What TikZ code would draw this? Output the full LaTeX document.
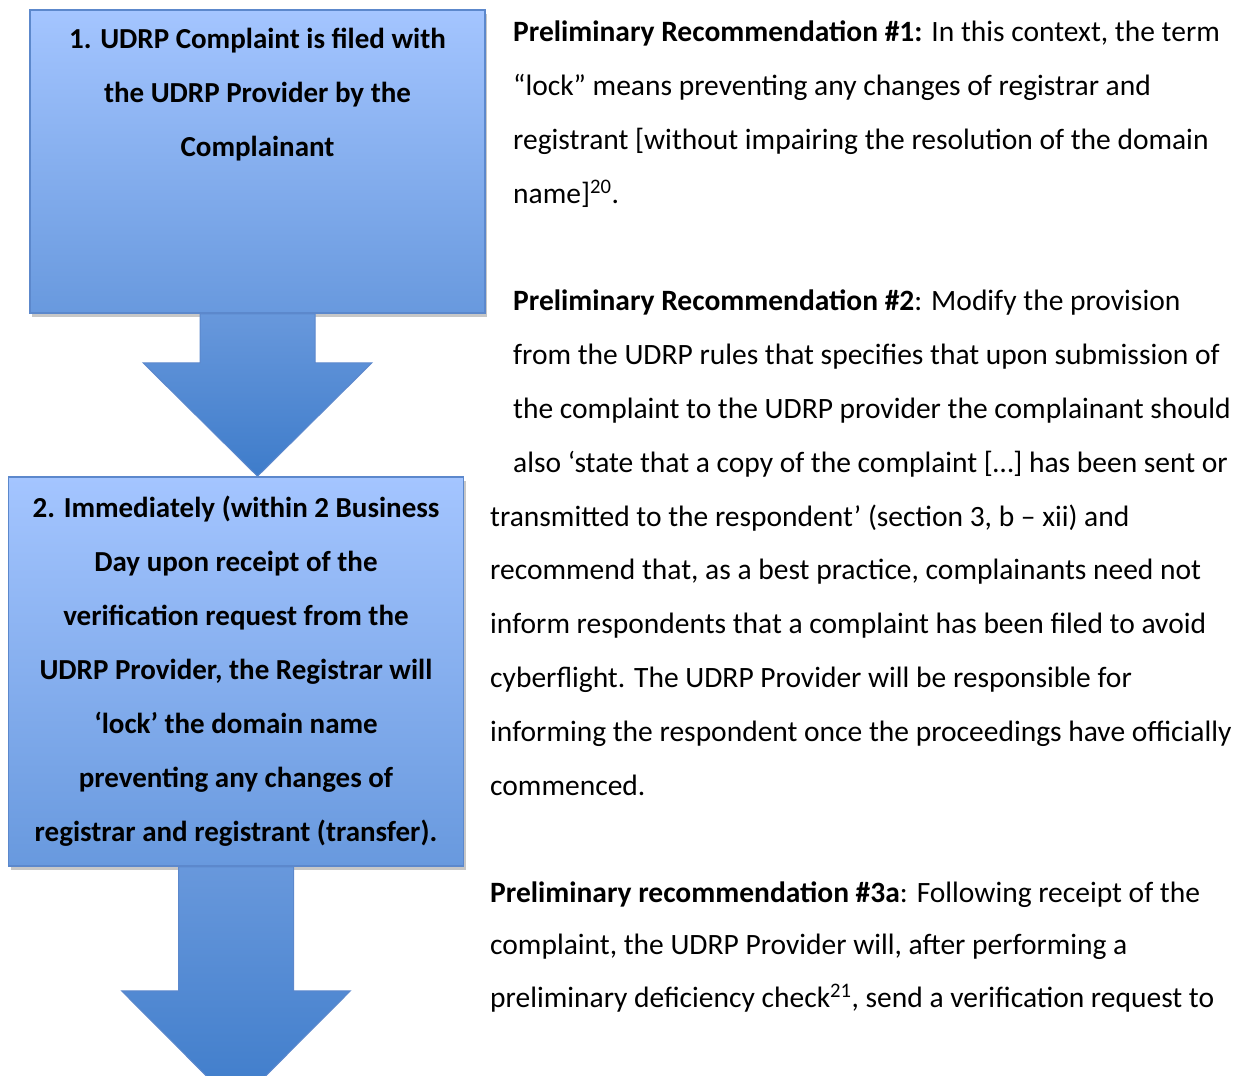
\documentclass[tikz,border=0pt]{standalone}
\usepackage{fontspec}
\setmainfont{Carlito}
\usetikzlibrary{positioning,calc,shadows}

\definecolor{boxtop}{RGB}{164,197,255}
\definecolor{boxbot}{RGB}{104,153,222}
\definecolor{arrowtop}{RGB}{104,152,220}
\definecolor{arrowbot}{RGB}{62,124,202}
\definecolor{boxedge}{RGB}{92,136,204}

\tikzset{
  stepbox/.style={draw=boxedge, line width=1.5pt, top color=boxtop, bottom color=boxbot,
    minimum width=455pt, inner sep=0pt,
    drop shadow={shadow xshift=2pt, shadow yshift=-4pt, fill=black!22, opacity=1}},
  flowarrow/.style={draw=boxedge, line width=1pt, top color=arrowtop, bottom color=arrowbot},
  boxtext/.style={font=\fontsize{29}{54}\selectfont\bfseries, align=center, inner sep=0pt, anchor=base},
  rectext/.style={font=\fontsize{29.5}{53.8}\selectfont, align=left, inner sep=0pt, anchor=base west}
}

\begin{document}
\begin{tikzpicture}[x=1pt,y=-1pt]
\useasboundingbox (0,0) rectangle (1237,1076);
\clip (0,0) rectangle (1237,1076);
% the two steps
\node[stepbox, minimum height=303pt] (box1) at (257.5,161.5) {};
\node[stepbox, minimum height=389pt] (box2) at (236,671.5) {};
% arrow from step 1 to step 2
\draw[flowarrow] ($(box1.south)+(-57.5,0)$) -- ++(0,49) -- ++(-57,0)
  -- (box1.south |- box2.north)
  -- ($(box1.south)+(114.5,49)$) -- ++(-57,0) -- ++(0,-49) -- cycle;
% arrow leaving step 2
\draw[flowarrow] ($(box2.south)+(-57.5,0)$) -- ++(0,124) -- ++(-57,0)
  -- ($(box2.south)+(0,239)$)
  -- ($(box2.south)+(114.5,124)$) -- ++(-57,0) -- ++(0,-124) -- cycle;
% step texts (anchored on the last line)
\node[boxtext] (step1) at ($(box1.north)+(0,147)$)
  {1. UDRP Complaint is filed with\\the UDRP Provider by the\\Complainant};
\node[boxtext] (step2) at ($(box2.north)+(0,365)$)
  {2. Immediately (within 2 Business\\Day upon receipt of the\\verification request from the\\UDRP Provider, the Registrar will\\‘lock’ the domain name\\preventing any changes of\\registrar and registrant (transfer).};
% recommendations
\node[rectext] (rec1) at (513,203)
  {\textbf{Preliminary Recommendation \#1:} In this context, the term\\“lock” means preventing any changes of registrar and\\registrant [without impairing the resolution of the domain\\name]\textsuperscript{20}.};
\node[rectext] (rec2) at (490,795)
  {\hspace*{23pt}\textbf{Preliminary Recommendation \#2}: Modify the provision\\\hspace*{23pt}from the UDRP rules that specifies that upon submission of\\\hspace*{23pt}the complaint to the UDRP provider the complainant should\\\hspace*{23pt}also ‘state that a copy of the complaint […] has been sent or\\transmitted to the respondent’ (section 3, b – xii) and\\recommend that, as a best practice, complainants need not\\inform respondents that a complaint has been filed to avoid\\cyberflight. The UDRP Provider will be responsible for\\informing the respondent once the proceedings have officially\\commenced.};
\node[rectext, font=\fontsize{29.5}{52.5}\selectfont] (rec3) at (490,1007)
  {\textbf{Preliminary recommendation \#3a}: Following receipt of the\\complaint, the UDRP Provider will, after performing a\\preliminary deficiency check\textsuperscript{21}, send a verification request to};
\end{tikzpicture}
\end{document}
